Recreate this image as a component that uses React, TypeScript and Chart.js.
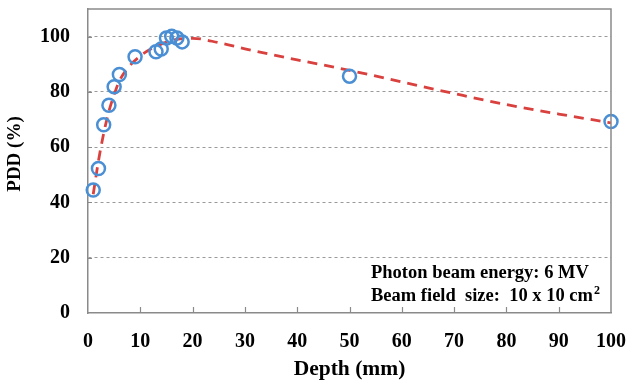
import React, { useEffect, useRef } from "react";
import { Chart, registerables } from "chart.js";

Chart.register(...registerables);

// Measured PDD points
const depthMeasured = [1, 2, 3, 4, 5, 6, 9, 13, 14, 15, 16, 17, 18, 50, 100];
const pddMeasured = [44.5, 52.3, 68.1, 75.2, 81.9, 86.3, 92.7, 94.5, 95.5, 99.5, 100.1, 99.5, 98.1, 85.7, 69.3];

// Fitted curve
const depthFit = [1, 2, 3, 4, 5, 6, 8, 10, 12, 14, 16, 18, 20, 25, 30, 40, 50, 60, 70, 80, 90, 100];
const pddFit = [43, 55, 65, 73, 79, 84, 89.5, 93, 95.5, 97.3, 98.6, 99.3, 99.4, 97.8, 95.6, 91.6, 87.8, 83.6, 79.4, 75.4, 72, 68.8];

const xTicks = [0, 10, 20, 30, 40, 50, 60, 70, 80, 90, 100];
const yTicks = [0, 20, 40, 60, 80, 100];

const xTitle = "Depth (mm)";
const yTitle = "PDD (%)";
const infoLine1 = "Photon beam energy: 6 MV";
const infoLine2 = "Beam field  size:  10 x 10 cm";
const infoSup = "2";

const SERIF = '"Liberation Serif", "Times New Roman", serif';
const FRAME = "#8a8a8a";

const decorPlugin = {
  id: "decor",
  afterDatasetsDraw(chart: any) {
    const { ctx, chartArea, scales } = chart;
    const xs = scales.x;
    const ys = scales.y;
    ctx.save();
    ctx.setLineDash([]);
    // frame top & right
    ctx.strokeStyle = FRAME;
    ctx.lineWidth = 1.5;
    ctx.beginPath();
    ctx.moveTo(chartArea.left, chartArea.top);
    ctx.lineTo(chartArea.right, chartArea.top);
    ctx.lineTo(chartArea.right, chartArea.bottom);
    ctx.stroke();
    // inward tick marks
    ctx.lineWidth = 1.2;
    ctx.beginPath();
    xTicks.slice(1, -1).forEach((v) => {
      const px = Math.round(xs.getPixelForValue(v)) + 0.5;
      ctx.moveTo(px, chartArea.bottom);
      ctx.lineTo(px, chartArea.bottom - 6);
    });
    yTicks.slice(1).forEach((v) => {
      const py = Math.round(ys.getPixelForValue(v)) + 0.5;
      ctx.moveTo(chartArea.left, py);
      ctx.lineTo(chartArea.left + 4, py);
    });
    ctx.stroke();
    // y axis title
    ctx.fillStyle = "#000";
    ctx.save();
    ctx.translate(15, 154);
    ctx.rotate(-Math.PI / 2);
    ctx.textAlign = "center";
    ctx.textBaseline = "middle";
    ctx.font = `bold 19px ${SERIF}`;
    ctx.fillText(yTitle, 0, 0);
    ctx.restore();
    // info text
    ctx.textAlign = "left";
    ctx.textBaseline = "alphabetic";
    ctx.font = `bold 18.5px ${SERIF}`;
    ctx.fillText(infoLine1, 371, 278);
    ctx.fillText(infoLine2, 371, 301);
    const w = ctx.measureText(infoLine2).width;
    ctx.font = `bold 12px ${SERIF}`;
    ctx.fillText(infoSup, 371 + w + 1, 294);
    ctx.restore();
  },
};

export default function App() {
  const ref = useRef<HTMLCanvasElement>(null);
  useEffect(() => {
    if (!ref.current) return;
    const chart = new Chart(ref.current, {
      type: "scatter",
      data: {
        datasets: [
          {
            label: "Measured",
            data: depthMeasured.map((x, i) => ({ x, y: pddMeasured[i] })),
            showLine: false,
            pointRadius: 6.5,
            pointBorderWidth: 2.5,
            pointBackgroundColor: "rgba(0,0,0,0)",
            pointBorderColor: "#4a8fd4",
            borderColor: "#4a8fd4",
            clip: false,
          } as any,
          {
            label: "Fit",
            type: "line",
            data: depthFit.map((x, i) => ({ x, y: pddFit[i] })),
            borderColor: "#d9413f",
            borderWidth: 2.8,
            borderDash: [10, 7],
            pointRadius: 0,
            cubicInterpolationMode: "monotone",
            fill: false,
          } as any,
        ],
      },
      options: {
        responsive: false,
        animation: false,
        layout: { padding: { left: 0, top: 5, right: 16, bottom: 0 } },
        plugins: { legend: { display: false }, tooltip: { enabled: false } },
        scales: {
          x: {
            type: "linear",
            min: 0,
            max: 100,
            afterFit: (s: any) => {
              s.height = 70;
              s.paddingLeft = 0;
              s.paddingRight = 0;
            },
            ticks: {
              stepSize: 10,
              padding: 17,
              color: "#000",
              font: { family: SERIF, size: 20, weight: "bold" },
              maxRotation: 0,
            },
            grid: { display: false, drawTicks: false },
            border: { display: true, color: FRAME, width: 1.5 },
            title: {
              display: true,
              text: xTitle,
              color: "#000",
              font: { family: SERIF, size: 21.5, weight: "bold" },
              padding: { top: 0, bottom: 1 },
            },
          },
          y: {
            type: "linear",
            min: 0,
            max: 110,
            afterFit: (s: any) => {
              s.width = 88;
              s.paddingTop = 0;
              s.paddingBottom = 0;
            },
            ticks: {
              stepSize: 20,
              padding: 18,
              color: "#000",
              font: { family: SERIF, size: 20, weight: "bold" },
              callback: (v: any) => (yTicks.includes(v) ? String(v) : null),
            },
            grid: {
              drawTicks: false,
              color: (c: any) =>
                c.tick && (c.tick.value === 0 || c.tick.value === 110) ? "rgba(0,0,0,0)" : "#9a9a9a",
              lineWidth: 1,
            },
            border: { display: true, color: FRAME, width: 1.5, dash: [3, 3] } as any,
          },
        },
      },
      plugins: [decorPlugin],
    });
    return () => chart.destroy();
  }, []);
  return (
    <div style={{ position: "fixed", left: 0, top: 0, width: 627, height: 383, background: "#fff" }}>
      <canvas ref={ref} width={627} height={383} style={{ display: "block" }} />
    </div>
  );
}
